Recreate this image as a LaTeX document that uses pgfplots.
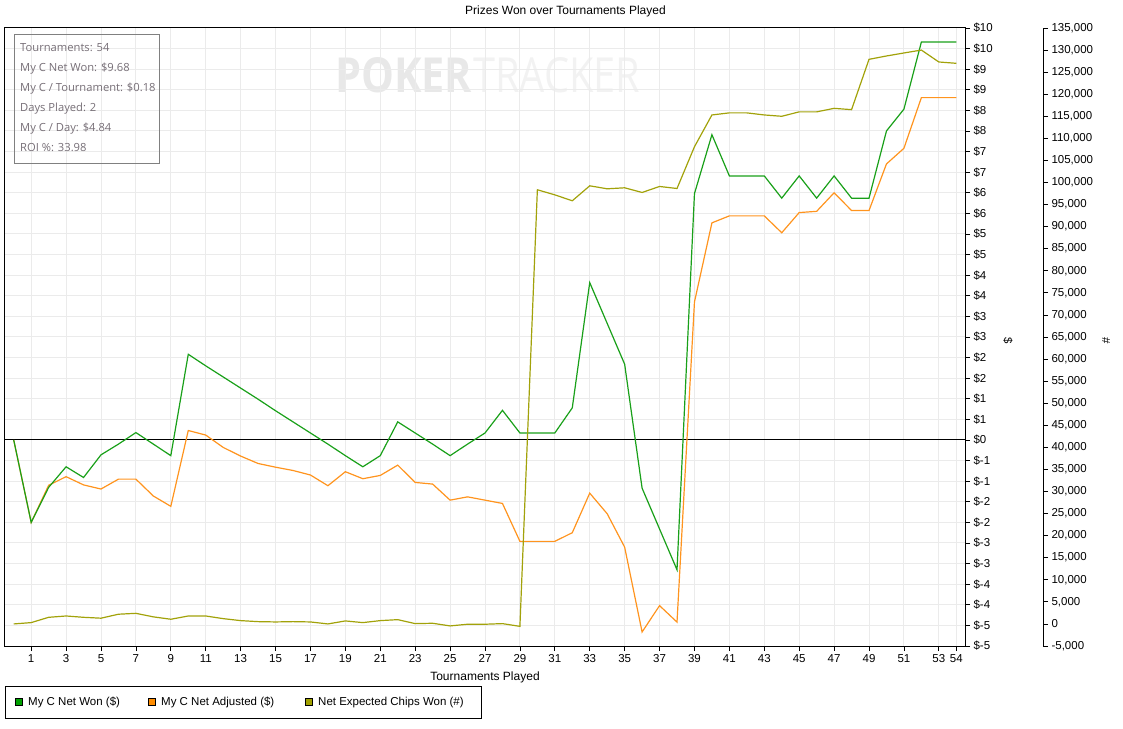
\documentclass[border=0pt]{standalone}
\usepackage{fontspec}
\setmainfont{Liberation Sans}
\newfontfamily\statsfont{Open Sans}
\usepackage{graphicx}
\usepackage{pgfplots}
\pgfplotsset{compat=1.18}
\usepackage{pgfplotstable}
\definecolor{cgreen}{RGB}{25,160,25}
\definecolor{corange}{RGB}{255,148,30}
\definecolor{colive}{RGB}{162,162,10}
\definecolor{gridc}{RGB}{235,235,235}
\definecolor{statc}{RGB}{118,110,118}
\definecolor{lgreen}{RGB}{0,160,0}
\definecolor{lorange}{RGB}{255,140,0}
\definecolor{lolive}{RGB}{160,160,0}
\definecolor{wmA}{RGB}{232,232,232}
\definecolor{wmB}{RGB}{242,242,242}

\pgfplotstableread{
x won adj
0 0 0
1 -2.00 -2.00
2 -1.15 -1.10
3 -0.65 -0.89
4 -0.91 -1.09
5 -0.36 -1.19
6 -0.10 -0.95
7 0.18 -0.95
8 -0.10 -1.36
9 -0.38 -1.61
10 2.08 0.23
11 1.80 0.12
12 1.53 -0.18
13 1.26 -0.39
14 0.99 -0.57
15 0.71 -0.66
16 0.44 -0.74
17 0.17 -0.85
18 -0.10 -1.11
19 -0.38 -0.77
20 -0.65 -0.94
21 -0.38 -0.86
22 0.44 -0.61
23 0.17 -1.03
24 -0.10 -1.07
25 -0.38 -1.46
26 -0.10 -1.38
27 0.17 -1.46
28 0.72 -1.54
29 0.17 -2.46
30 0.17 -2.46
31 0.17 -2.46
32 0.78 -2.25
33 3.82 -1.29
34 2.83 -1.79
35 1.84 -2.60
36 -1.17 -4.66
37 -2.16 -4.02
38 -3.15 -4.42
39 5.98 3.35
40 7.41 5.27
41 6.41 5.44
42 6.41 5.44
43 6.41 5.44
44 5.87 5.03
45 6.41 5.52
46 5.87 5.55
47 6.41 6.00
48 5.87 5.57
49 5.87 5.57
50 7.50 6.70
51 8.03 7.08
52 9.66 8.31
53 9.66 8.31
54 9.66 8.31
}\dollartable

\pgfplotstableread{
x chips
0 0
1 300
2 1500
3 1800
4 1500
5 1300
6 2200
7 2400
8 1600
9 1060
10 1800
11 1800
12 1200
13 750
14 520
15 450
16 520
17 450
18 0
19 680
20 300
21 750
22 970
23 70
24 150
25 -450
26 -70
27 -70
28 70
29 -550
30 98350
31 97200
32 95860
33 99250
34 98570
35 98800
36 97740
37 99100
38 98640
39 108100
40 115300
41 115770
42 115770
43 115300
44 115000
45 116000
46 116000
47 116800
48 116500
49 127900
50 128660
51 129340
52 130000
53 127300
54 127000
}\chiptable

\begin{document}
\begin{tikzpicture}[x=1pt,y=1pt]
\path[use as bounding box] (0,0) rectangle (1123,728);

% watermark
\node[anchor=south west, inner sep=0] at (335,635) {\color{wmA}\resizebox{137pt}{35pt}{\statsfont\bfseries POKER}};
\node[anchor=south west, inner sep=0] at (473,635) {\color{wmB}\resizebox{167pt}{35pt}{\statsfont TRACKER}};

\begin{axis}[
  at={(5pt,82pt)}, anchor=south west,
  width=960pt, height=618pt, scale only axis,
  xmin=-0.5, xmax=54.5, ymin=-5, ymax=10,
  axis line style={black, line width=1pt},
  xtick={1,3,5,7,9,11,13,15,17,19,21,23,25,27,29,31,33,35,37,39,41,43,45,47,49,51,53,54},
  xticklabels={1,3,5,7,9,11,13,15,17,19,21,23,25,27,29,31,33,35,37,39,41,43,45,47,49,51,53,54},
  ytick={-5,-4.5,-4,-3.5,-3,-2.5,-2,-1.5,-1,-0.5,0,0.5,1,1.5,2,2.5,3,3.5,4,4.5,5,5.5,6,6.5,7,7.5,8,8.5,9,9.5,10},
  yticklabels={\$-5,\$-5,\$-4,\$-4,\$-3,\$-3,\$-2,\$-2,\$-1,\$-1,\$0,\$1,\$1,\$2,\$2,\$3,\$3,\$4,\$4,\$5,\$5,\$6,\$6,\$7,\$7,\$8,\$8,\$9,\$9,\$10,\$10},
  xtick pos=bottom, ytick pos=right,
  yticklabel pos=right,
  tick align=outside,
  major tick length=5pt,
  tick style={black, line width=0.8pt},
  grid=major,
  major grid style={draw=gridc, line width=1pt},
  ticklabel style={font=\fontsize{11.5}{13}\selectfont},
]
\addplot[black, line width=1pt, forget plot] coordinates {(-0.5,0) (54.5,0)};
\addplot[corange, line width=1.2pt] table[x=x, y=adj] {\dollartable};
\addplot[cgreen, line width=1.2pt] table[x=x, y=won] {\dollartable};
\end{axis}

\begin{axis}[
  at={(5pt,82pt)}, anchor=south west,
  width=1038pt, height=618pt, scale only axis,
  xmin=-0.5, xmax=58.96875, ymin=-5000, ymax=135000,
  axis x line=none,
  axis y line*=right,
  y axis line style={black, line width=1pt, -},
  ytick={-5000,0,5000,10000,15000,20000,25000,30000,35000,40000,45000,50000,55000,60000,65000,70000,75000,80000,85000,90000,95000,100000,105000,110000,115000,120000,125000,130000,135000},
  yticklabels={{-5,000},{0},{5,000},{10,000},{15,000},{20,000},{25,000},{30,000},{35,000},{40,000},{45,000},{50,000},{55,000},{60,000},{65,000},{70,000},{75,000},{80,000},{85,000},{90,000},{95,000},{100,000},{105,000},{110,000},{115,000},{120,000},{125,000},{130,000},{135,000}},
  scaled y ticks=false,
  tick align=outside,
  major tick length=5pt,
  tick style={black, line width=0.8pt},
  ticklabel style={font=\fontsize{11.5}{13}\selectfont},
]
\addplot[colive, line width=1.2pt] table[x=x, y=chips] {\chiptable};
\end{axis}

% axis titles
\node[rotate=-90, font=\fontsize{11.5}{13}\selectfont] at (1008,387) {\$};
\node[rotate=-90, font=\fontsize{11.5}{13}\selectfont] at (1106,387) {\#};

% title and x label
\node[anchor=base, font=\fontsize{12}{14}\selectfont] at (565.5,713.5) {Prizes Won over Tournaments Played};
\node[anchor=base, font=\fontsize{12}{14}\selectfont] at (485,48) {Tournaments Played};

% stats box
\draw[draw={rgb,255:red,128;green,128;blue,128}, line width=1pt] (14.3,564.7) rectangle (159.3,693.7);
\foreach \t [count=\i from 0] in {Tournaments: 54, My C Net Won: \$9.68, My C / Tournament: \$0.18, Days Played: 2, My C / Day: \$4.84, ROI \%: 33.98}
  \node[anchor=base west, inner sep=0, text=statc, font=\statsfont\fontsize{11.2}{13}\selectfont] at (20,676.5-20*\i) {\t};

% legend
\draw[black, line width=1pt] (5.5,9.7) rectangle (481,41.3);
\draw[black, fill=lgreen] (15,23) rectangle (22,30);
\node[anchor=base west, inner sep=0, font=\fontsize{11.5}{13}\selectfont] at (28,23) {My C Net Won (\$)};
\draw[black, fill=lorange] (148,23) rectangle (155,30);
\node[anchor=base west, inner sep=0, font=\fontsize{11.5}{13}\selectfont] at (161,23) {My C Net Adjusted (\$)};
\draw[black, fill=lolive] (305,23) rectangle (312,30);
\node[anchor=base west, inner sep=0, font=\fontsize{11.5}{13}\selectfont] at (318,23) {Net Expected Chips Won (\#)};
\end{tikzpicture}
\end{document}
